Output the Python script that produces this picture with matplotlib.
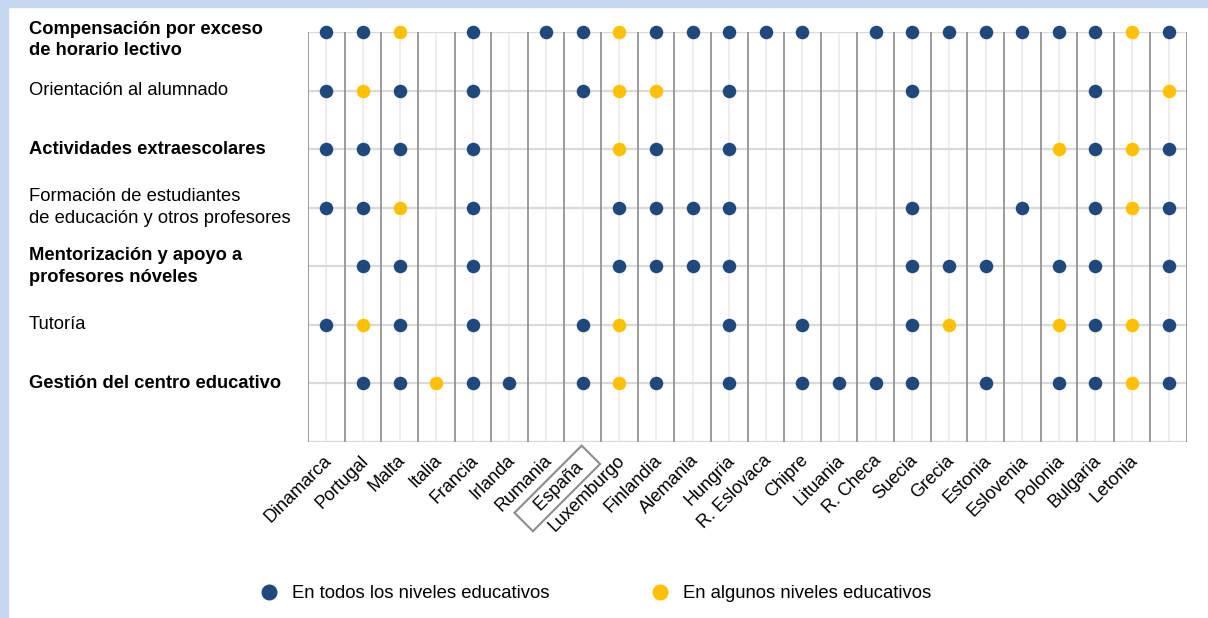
import matplotlib
matplotlib.use('Agg')
import matplotlib.pyplot as plt
import matplotlib.transforms as mtransforms
from matplotlib.lines import Line2D
from matplotlib.patches import Rectangle

plt.rcParams['font.family'] = ['Liberation Sans', 'DejaVu Sans']

# datos: 2 = en todos los niveles, 1 = en algunos niveles, 0 = no
paises = ['Dinamarca', 'Portugal', 'Malta', 'Italia', 'Francia', 'Irlanda', 'Rumania',
          'España', 'Luxemburgo', 'Finlandia', 'Alemania', 'Hungria', 'R. Eslovaca',
          'Chipre', 'Lituania', 'R. Checa', 'Suecia', 'Grecia', 'Estonia', 'Eslovenia',
          'Polonia', 'Bulgaria', 'Letonia', '']

filas = ['Compensación por exceso\nde horario lectivo',
         'Orientación al alumnado',
         'Actividades extraescolares',
         'Formación de estudiantes\nde educación y otros profesores',
         'Mentorización y apoyo a\nprofesores nóveles',
         'Tutoría',
         'Gestión del centro educativo']
filas_negrita = [True, False, True, False, True, False, True]

compensacion = [2, 2, 1, 0, 2, 0, 2, 2, 1, 2, 2, 2, 2, 2, 0, 2, 2, 2, 2, 2, 2, 2, 1, 2]
orientacion  = [2, 1, 2, 0, 2, 0, 0, 2, 1, 1, 0, 2, 0, 0, 0, 0, 2, 0, 0, 0, 0, 2, 0, 1]
actividades  = [2, 2, 2, 0, 2, 0, 0, 0, 1, 2, 0, 2, 0, 0, 0, 0, 0, 0, 0, 0, 1, 2, 1, 2]
formacion    = [2, 2, 1, 0, 2, 0, 0, 0, 2, 2, 2, 2, 0, 0, 0, 0, 2, 0, 0, 2, 0, 2, 1, 2]
mentorizacion = [0, 2, 2, 0, 2, 0, 0, 0, 2, 2, 2, 2, 0, 0, 0, 0, 2, 2, 2, 0, 2, 2, 0, 2]
tutoria      = [2, 1, 2, 0, 2, 0, 0, 2, 1, 0, 0, 2, 0, 2, 0, 0, 2, 1, 0, 0, 1, 2, 1, 2]
gestion      = [0, 2, 2, 1, 2, 2, 0, 2, 1, 2, 0, 2, 0, 2, 2, 2, 2, 0, 2, 0, 2, 2, 1, 2]
valores = [compensacion, orientacion, actividades, formacion, mentorizacion, tutoria, gestion]

leyenda = ['En todos los niveles educativos', 'En algunos niveles educativos']

AZUL = '#1F497D'
AMARILLO = '#FFC000'
colores = {2: AZUL, 1: AMARILLO}

fig = plt.figure(figsize=(12.08, 6.18), dpi=100, facecolor='white')
# marco azul claro (izquierda y arriba)
fig.patches.append(Rectangle((0, 0), 8 / 1208, 1, transform=fig.transFigure,
                             color='#C6D9F1', zorder=0))
fig.patches.append(Rectangle((0, 1 - 7 / 618), 1, 7 / 618, transform=fig.transFigure,
                             color='#C6D9F1', zorder=0))

ax = fig.add_axes([308 / 1208, 1 - 442 / 618, 879 / 1208, 410 / 618])
n_col = len(paises)
n_fil = len(filas)
ax.set_xlim(-0.5, n_col - 0.5)
ax.set_ylim(n_fil, 0)
for s in ax.spines.values():
    s.set_visible(False)
ax.set_xticks([])
ax.set_yticks([])

# rejilla
for j in range(n_col):
    ax.plot([j, j], [0, n_fil], color='#EDEDED', lw=1.3, zorder=1)
for i in range(n_fil + 1):
    ax.plot([-0.5, n_col - 0.5], [i, i], color='#DADADA', lw=1.6, zorder=1)
for j in range(n_col + 1):
    ax.plot([j - 0.5, j - 0.5], [0, n_fil], color='#939393', lw=1.3, zorder=2)

# puntos
for i, fila in enumerate(valores):
    for j, v in enumerate(fila):
        if v:
            ax.scatter(j, i, s=95, color=colores[v], zorder=3, clip_on=False,
                       linewidths=0)

# etiquetas de filas
trans_filas = mtransforms.blended_transform_factory(fig.transFigure, ax.transData)
for i, (txt, negrita) in enumerate(zip(filas, filas_negrita)):
    dy = 8 if i == 0 else 0
    ax.annotate(txt, xy=(29 / 1208, i), xycoords=trans_filas,
                xytext=(0, -dy), textcoords='offset pixels',
                ha='left', va='center', fontsize=13.2,
                fontweight='bold' if negrita else 'normal', color='black',
                linespacing=1.35)

# etiquetas de países
for j, p in enumerate(paises):
    if not p:
        continue
    kw = {}
    texto = p
    dx = 3
    if p == 'España':
        kw['bbox'] = dict(boxstyle='square,pad=0.25', fc='none', ec='#8C8C8C', lw=1.5)
        texto = '   ' + p + '  '
        dx = 5
    ax.annotate(texto, xy=(j, n_fil), xycoords='data', xytext=(dx, -16),
                textcoords='offset pixels', rotation=45, rotation_mode='anchor',
                ha='right', va='center', fontsize=13, color='black',
                annotation_clip=False, **kw)

# leyenda
handles = [Line2D([], [], marker='o', ls='none', color=AZUL, markersize=10.5),
           Line2D([], [], marker='o', ls='none', color=AMARILLO, markersize=10.5)]
fig.legend(handles, leyenda, loc='center', bbox_to_anchor=(0.493, 1 - 594 / 618),
           ncol=2, frameon=False, fontsize=13.3, handlelength=1.0,
           handletextpad=0.75, columnspacing=5.5)

fig.savefig('out.png', dpi=100, facecolor='white')
